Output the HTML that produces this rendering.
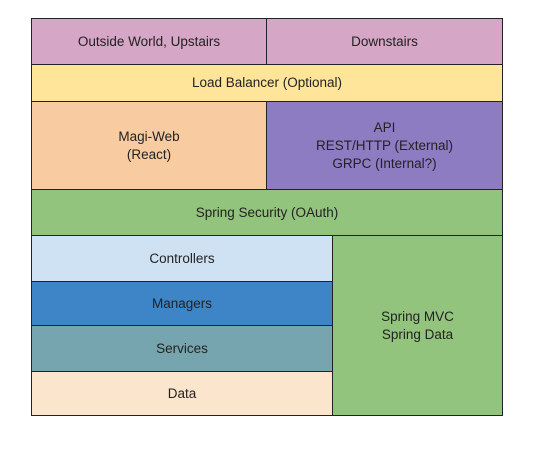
<!DOCTYPE html>
<html><head><style>
body{margin:0;width:549px;height:464px;background:#fff;position:relative;font-family:"Liberation Sans",sans-serif;font-size:13.5px;color:#222;}
.b{position:absolute;box-sizing:border-box;border:1px solid #222;display:flex;align-items:center;justify-content:center;text-align:center;line-height:18px;}
</style></head><body>
<div class="b" style="left:31px;top:18px;width:236px;height:47px;background:#d5a6c6">Outside World, Upstairs</div>
<div class="b" style="left:266px;top:18px;width:237px;height:47px;background:#d5a6c6">Downstairs</div>
<div class="b" style="left:31px;top:64px;width:472px;height:38px;background:#ffe599">Load Balancer (Optional)</div>
<div class="b" style="left:31px;top:101px;width:236px;height:89px;background:#f8cba0">Magi-Web<br>(React)</div>
<div class="b" style="left:266px;top:101px;width:237px;height:89px;background:#8e7cc3">API<br>REST/HTTP (External)<br>GRPC (Internal?)</div>
<div class="b" style="left:31px;top:189px;width:472px;height:47px;background:#93c47d">Spring Security (OAuth)</div>
<div class="b" style="left:31px;top:235px;width:302px;height:47px;background:#cfe2f3">Controllers</div>
<div class="b" style="left:31px;top:281px;width:302px;height:45px;background:#3d85c6">Managers</div>
<div class="b" style="left:31px;top:325px;width:302px;height:47px;background:#76a5af">Services</div>
<div class="b" style="left:31px;top:371px;width:302px;height:45px;background:#fce5cd">Data</div>
<div class="b" style="left:332px;top:235px;width:171px;height:181px;background:#93c47d">Spring MVC<br>Spring Data</div>
</body></html>
